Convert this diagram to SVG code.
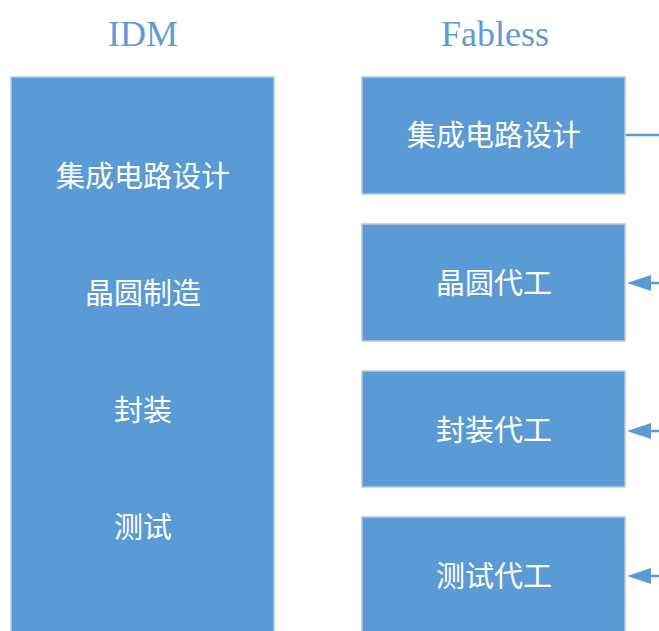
<svg xmlns="http://www.w3.org/2000/svg" width="659" height="631" viewBox="0 0 659 631">
<style>
.box{fill:#5b9bd5;stroke:#b7c9dc;stroke-width:1.5}
.t{font-family:"Noto Sans CJK SC","Noto Sans",sans-serif;font-size:29px;fill:#ffffff;text-anchor:middle;dominant-baseline:central}
.h{font-family:"Liberation Serif",serif;font-size:36px;fill:#5f9bd3;text-anchor:middle}
.c{stroke:#5b9bd5;stroke-width:2.5;fill:none}
</style>
<rect width="659" height="631" fill="#ffffff"/>
<text class="h" x="143" y="46">IDM</text>
<text class="h" x="495" y="46">Fabless</text>
<g id="idm">
<rect class="box" x="11" y="77" width="263" height="560"/>
<text class="t" x="143" y="174">集成电路设计</text>
<text class="t" x="143" y="291">晶圆制造</text>
<text class="t" x="143" y="408">封装</text>
<text class="t" x="143" y="525">测试</text>
</g>
<g id="f1">
<rect class="box" x="362" y="77" width="263" height="117"/>
<text class="t" x="494" y="133">集成电路设计</text>
</g>
<g id="f2">
<rect class="box" x="362" y="224" width="263" height="117"/>
<text class="t" x="494" y="281">晶圆代工</text>
</g>
<g id="f3">
<rect class="box" x="362" y="371" width="263" height="116"/>
<text class="t" x="494" y="428">封装代工</text>
</g>
<g id="f4">
<rect class="box" x="362" y="517" width="263" height="120"/>
<text class="t" x="494" y="574">测试代工</text>
</g>
<g id="connectors">
<line class="c" x1="626" y1="135" x2="659" y2="135"/>
<path class="c" d="M659,283 L648,283"/>
<path d="M627,283 L651,275 L651,291 Z" fill="#5b9bd5"/>
<path class="c" d="M659,431 L648,431"/>
<path d="M627,431 L651,423 L651,439 Z" fill="#5b9bd5"/>
<path class="c" d="M659,576 L648,576"/>
<path d="M627,576 L651,568 L651,584 Z" fill="#5b9bd5"/>
</g>
</svg>
